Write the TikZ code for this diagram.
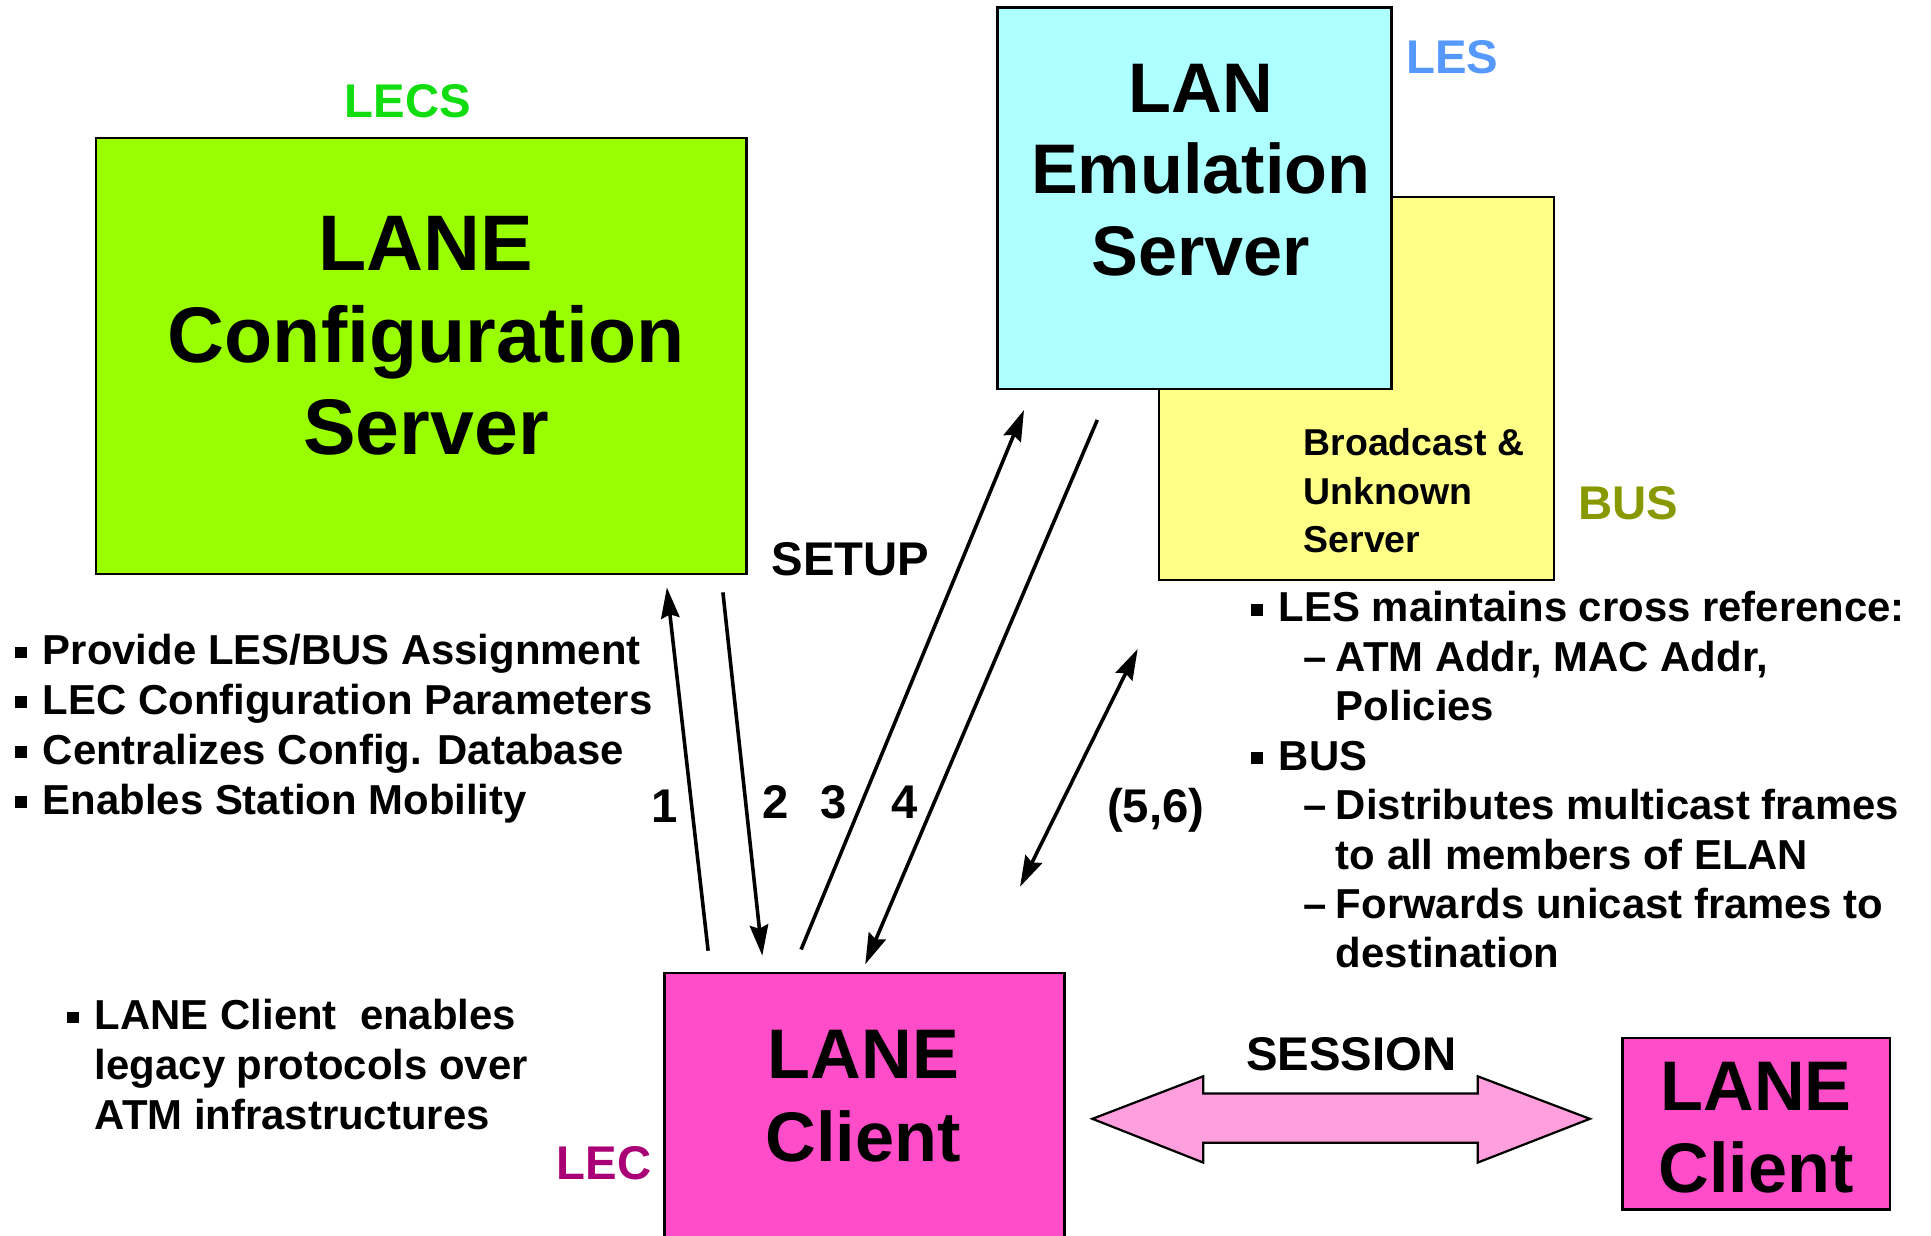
\documentclass[tikz,border=0pt]{standalone}
\usepackage{fontspec}
\setmainfont{Liberation Sans}
\usetikzlibrary{arrows.meta}
\definecolor{lecsfill}{HTML}{99FF00}
\definecolor{lesfill}{HTML}{AEFFFF}
\definecolor{busfill}{HTML}{FFFF88}
\definecolor{lecfill}{HTML}{FF4CC8}
\definecolor{sessfill}{HTML}{FF9FDD}
\definecolor{lecsgreen}{HTML}{11DD11}
\definecolor{lesblue}{HTML}{5599FF}
\definecolor{busolive}{HTML}{889900}
\definecolor{lecpurple}{HTML}{AA0077}
\newcommand{\bsq}{\makebox[22.4pt][l]{\rule[5pt]{9.5pt}{9.5pt}}}
\begin{document}
\begin{tikzpicture}[x={(1pt,0)},y={(0,-1pt)},
  box/.style={draw=black, line width=2pt, inner sep=0pt, outer sep=0pt},
  txt/.style={inner sep=0pt, outer sep=0pt},
  bigtxt/.style={txt, align=center, anchor=base, font=\bfseries\fontsize{57}{66.5}\selectfont},
  lbl/.style={txt, anchor=base west, font=\bfseries\fontsize{38.4}{44}\selectfont},
  lst/.style={txt, anchor=base west, align=left, font=\bfseries\fontsize{34}{40.5}\selectfont},
  arr/.style={line width=2.9pt, -{Stealth[length=25pt,width=15pt,inset=3pt]}},
  darr/.style={line width=2.9pt, {Stealth[length=25pt,width=15pt,inset=3pt]}-{Stealth[length=25pt,width=15pt,inset=3pt]}}
]
\useasboundingbox (0,0) rectangle (1568,1003);

% boxes
\node[box, fill=lecsfill, minimum width=528pt, minimum height=354pt] (lecs) at (342,289) {};
\node[box, fill=busfill, minimum width=321pt, minimum height=311pt] (bus) at (1101.5,315.5) {};
\node[box, fill=lesfill, minimum width=320pt, minimum height=310pt] (les) at (970,161) {};
\node[box, fill=lecfill, minimum width=325pt, minimum height=225pt] (lec) at (702,902.5) {};
\node[box, fill=lecfill, minimum width=217pt, minimum height=139pt] (lec2) at (1426,912.5) {};

% box texts (anchor base = baseline of last line)
\node[bigtxt, font=\bfseries\fontsize{64}{74.5}\selectfont] (lecst) at (346,369) {LANE\\Configuration\\Server};
\node[bigtxt] (lest) at (975,224) {LAN\\Emulation\\Server};
\node[txt, anchor=base west, align=left, font=\bfseries\fontsize{30.4}{39.5}\selectfont] (bust) at (1058.6,449) {Broadcast \&\\Unknown\\Server};
\node[bigtxt, font=\bfseries\fontsize{57}{67}\selectfont] (lect) at (701,943) {LANE\\Client};
\node[bigtxt, font=\bfseries\fontsize{57}{66.3}\selectfont] (lec2t) at (1426,968) {LANE\\Client};

% colored labels
\node[lbl, text=lecsgreen] (lecsl) at (280,95.4) {LECS};
\node[lbl, text=lesblue] (lesl) at (1142,60) {LES};
\node[lbl, text=busolive] (busl) at (1281.5,421.5) {BUS};
\node[lbl, text=lecpurple] (lecl) at (452,958) {LEC};

% other labels
\node[lbl] (setup) at (626.5,467) {SETUP};
\node[lbl] (session) at (1011.8,869) {SESSION};
\node[lbl] (n1) at (529,667.7) {1};
\node[lbl] (n2) at (619,665) {2};
\node[lbl] (n3) at (666,665) {3};
\node[lbl] (n4) at (723.5,665) {4};
\node[lbl] (n56) at (899,667.6) {(5,6)};

% arrow end points
\coordinate (a1s) at (575,772);
\coordinate (a1e) at (541.5,477);
\coordinate (a2s) at (587,481);
\coordinate (a2e) at (619,776);
\coordinate (a3s) at (650.5,771);
\coordinate (a3e) at (831.5,333);
\coordinate (a4s) at (891,341);
\coordinate (a4e) at (702.6,783);
\coordinate (a5s) at (828.3,720);
\coordinate (a5e) at (923.8,527);

\draw[arr] (a1s) -- (a1e);
\draw[arr] (a2s) -- (a2e);
\draw[arr] (a3s) -- (a3e);
\draw[arr] (a4s) -- (a4e);
\draw[darr] (a5s) -- (a5e);

% session arrow
\draw[fill=sessfill, line width=1.8pt, line join=miter]
  (887,908.5) -- (977,874) -- (977,888) -- (1200,888) -- (1200,874) -- (1291,908.5)
  -- (1200,944) -- (1200,928) -- (977,928) -- (977,944) -- cycle;

% lists (anchor base = baseline of last line)
\node[lst] (leftlist) at (12.4,661) {\bsq Provide LES/BUS Assignment\\
\bsq LEC Configuration Parameters\\
\bsq Centralizes Config. Database\\
\bsq Enables Station Mobility};

\node[lst, font=\bfseries\fontsize{34}{40.15}\selectfont] (rightlist) at (1016,786) {\bsq LES maintains cross reference:\\
\hspace*{42.6pt}\makebox[26.2pt][l]{–}ATM Addr, MAC Addr,\\
\hspace*{68.8pt}Policies\\
\bsq BUS\\
\hspace*{42.6pt}\makebox[26.2pt][l]{–}Distributes multicast frames\\
\hspace*{68.8pt}to all members of ELAN\\
\hspace*{42.6pt}\makebox[26.2pt][l]{–}Forwards unicast frames to\\
\hspace*{68.8pt}destination};

\node[lst] (leclist) at (54.7,917) {\bsq LANE Client~ enables\\
\hspace*{22.4pt}legacy protocols over\\
\hspace*{22.4pt}ATM infrastructures};
\end{tikzpicture}
\end{document}
